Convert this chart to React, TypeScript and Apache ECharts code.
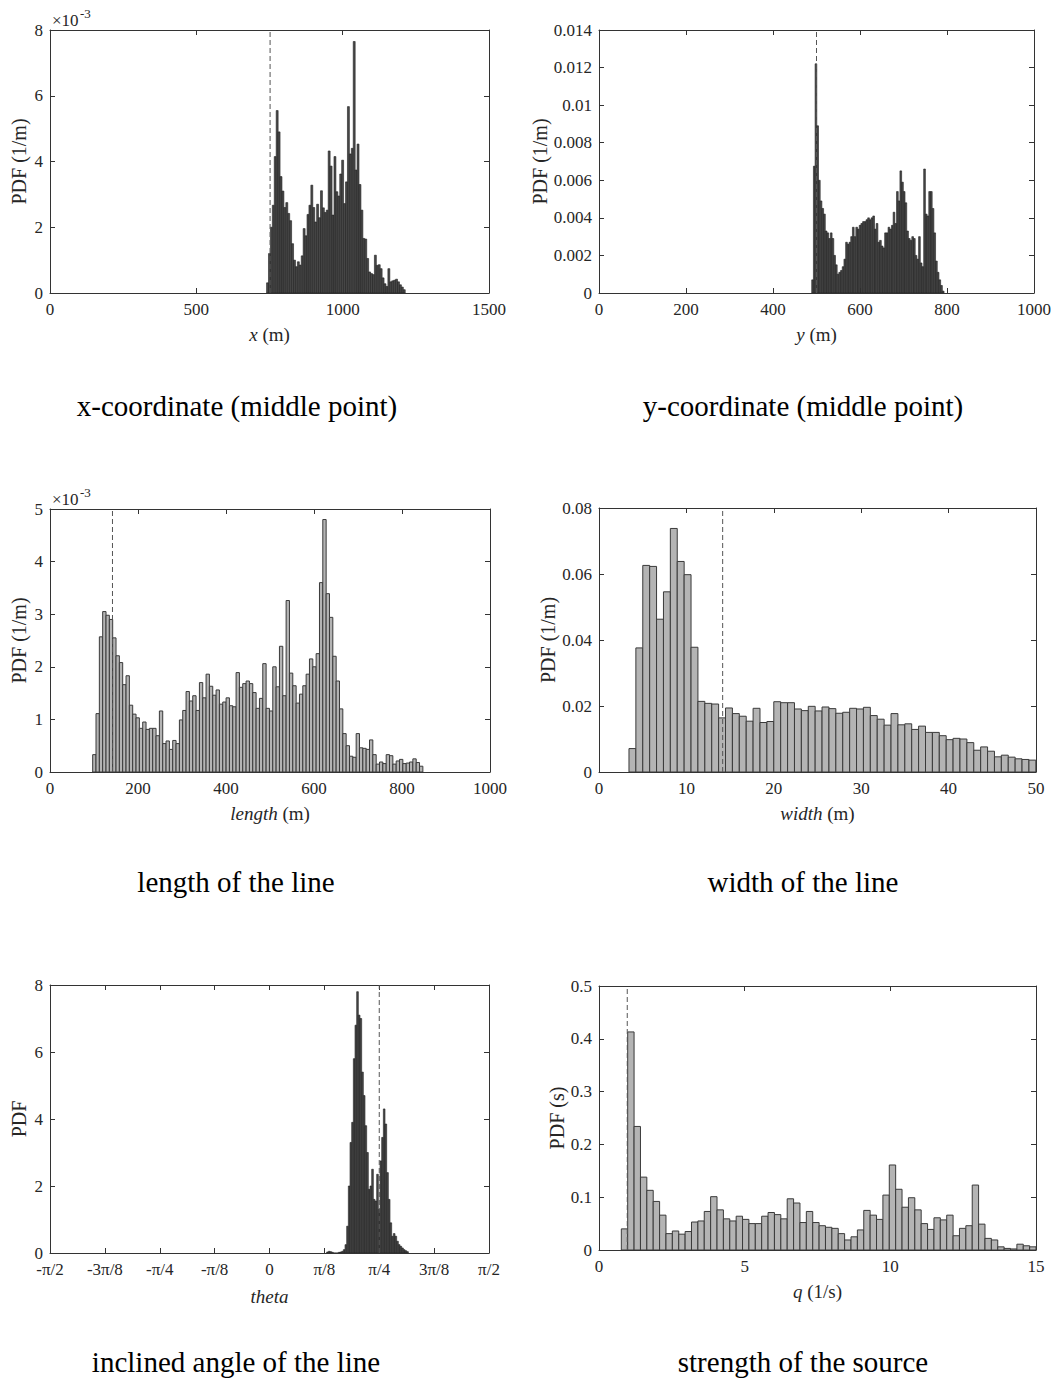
import React, { useEffect, useRef } from 'react';
import * as echarts from 'echarts';

const FONT = '"Liberation Serif", "Times New Roman", serif';

// ---- Panel 1: x-coordinate (middle point), PDF in 1e-3 (1/m)
const xMidStart = 740;
const xMidWidth = 6.58;
const xMidPdf = [0.31, 1.2, 2.0, 2.67, 4.15, 5.55, 4.9, 3.54, 3.1, 2.6, 2.75, 2.42, 2.2, 1.5, 1.0, 0.8, 0.95, 0.85, 1.13, 1.96, 1.74, 2.39, 2.67, 3.28, 2.6, 2.16, 2.7, 2.29, 3.11, 2.59, 2.45, 2.52, 4.32, 3.86, 2.37, 4.15, 3.08, 2.95, 3.62, 4.04, 2.72, 3.38, 5.67, 4.23, 4.4, 7.65, 3.74, 4.53, 3.3, 2.52, 1.66, 1.64, 1.05, 0.64, 0.59, 0.56, 1.15, 0.84, 0.86, 0.74, 0.46, 0.28, 0.2, 0.74, 0.34, 0.37, 0.39, 0.42, 0.34, 0.25, 0.18, 0.1];
const xMidRef = 752;

// ---- Panel 2: y-coordinate (middle point)
const yMidStart = 489;
const yMidWidth = 3.9;
const yMidPdf = [0.0007, 0.00675, 0.0122, 0.0089, 0.006, 0.0049, 0.0045, 0.0042, 0.0033, 0.0032, 0.0029, 0.0032, 0.0029, 0.002, 0.0015, 0.001, 0.0011, 0.0012, 0.0014, 0.0018, 0.0027, 0.0026, 0.0027, 0.003, 0.0035, 0.003, 0.0035, 0.0034, 0.0036, 0.0037, 0.0038, 0.0038, 0.0039, 0.004, 0.0039, 0.004, 0.0041, 0.0034, 0.0037, 0.0027, 0.0028, 0.0025, 0.0024, 0.0032, 0.0032, 0.0035, 0.0034, 0.0036, 0.0043, 0.0037, 0.0054, 0.0049, 0.0065, 0.0059, 0.0054, 0.0048, 0.0033, 0.0029, 0.0028, 0.003, 0.0029, 0.002, 0.0018, 0.003, 0.0016, 0.0014, 0.0066, 0.0042, 0.0041, 0.0054, 0.0054, 0.0045, 0.0032, 0.0017, 0.0011, 0.0007, 0.0004, 0.0001];
const yMidRef = 500;

// ---- Panel 3: length of the line, PDF in 1e-3 (1/m)
const lengthStart = 97;
const lengthWidth = 7.58;
const lengthPdf = [0.33, 1.11, 2.57, 3.05, 2.98, 2.9, 2.55, 2.21, 2.08, 1.66, 1.83, 1.27, 1.1, 1.03, 0.83, 0.95, 0.81, 0.83, 0.83, 0.69, 1.16, 0.54, 0.59, 0.43, 0.6, 0.54, 0.99, 1.17, 1.53, 1.35, 1.45, 1.17, 1.7, 1.41, 1.86, 1.63, 1.46, 1.56, 1.29, 1.33, 1.41, 1.26, 1.24, 1.89, 1.61, 1.68, 1.73, 1.68, 1.51, 1.21, 1.4, 2.06, 1.21, 1.16, 2.0, 1.62, 2.39, 1.45, 3.26, 1.88, 1.64, 1.31, 1.48, 1.64, 1.86, 2.15, 2.0, 2.25, 3.6, 4.8, 3.39, 2.94, 2.2, 1.73, 1.2, 0.73, 0.5, 0.3, 0.28, 0.73, 0.46, 0.45, 0.43, 0.61, 0.33, 0.15, 0.19, 0.16, 0.33, 0.31, 0.15, 0.21, 0.24, 0.16, 0.17, 0.19, 0.25, 0.18, 0.11];
const lengthRef = 142;

// ---- Panel 4: width of the line
const widthStart = 3.43;
const widthWidth = 0.789;
const widthPdf = [0.0071, 0.0376, 0.0626, 0.0623, 0.0463, 0.0546, 0.0738, 0.0638, 0.0598, 0.0378, 0.0214, 0.0208, 0.0206, 0.0164, 0.0194, 0.0177, 0.0169, 0.0154, 0.0193, 0.015, 0.0153, 0.0213, 0.021, 0.021, 0.0191, 0.0186, 0.0199, 0.0185, 0.0197, 0.0192, 0.0178, 0.0181, 0.0193, 0.0191, 0.0196, 0.0171, 0.016, 0.0142, 0.0177, 0.0143, 0.0146, 0.0129, 0.0139, 0.012, 0.012, 0.011, 0.0098, 0.0102, 0.01, 0.0089, 0.0066, 0.0076, 0.0063, 0.0046, 0.0051, 0.0045, 0.004, 0.0038, 0.0036];
const widthRef = 14.15;

// ---- Panel 5: inclined angle theta (rad)
const thetaStart = 0.4091;
const thetaWidth = 0.01193;
const thetaPdf = [0.03, 0.05, 0.04, 0.02, 0, 0, 0, 0.02, 0.03, 0.05, 0.1, 0.25, 0.8, 2.0, 3.3, 3.9, 5.8, 6.8, 7.8, 7.1, 7.0, 5.4, 4.7, 3.8, 3.0, 1.9, 2.0, 2.5, 1.6, 1.55, 2.35, 1.3, 2.75, 3.45, 4.3, 3.85, 2.4, 1.6, 0.9, 0.5, 0.58, 0.5, 0.35, 0.25, 0.2, 0.15, 0.1, 0.07, 0.04];
const thetaRef = Math.PI / 4;
const thetaTickLabels = ['-\u03c0/2', '-3\u03c0/8', '-\u03c0/4', '-\u03c0/8', '0', '\u03c0/8', '\u03c0/4', '3\u03c0/8', '\u03c0/2'];

// ---- Panel 6: strength of the source q (1/s)
const qStart = 0.766;
const qWidth = 0.219;
const qPdf = [0.04, 0.413, 0.234, 0.138, 0.113, 0.092, 0.066, 0.031, 0.036, 0.03, 0.035, 0.053, 0.055, 0.073, 0.101, 0.076, 0.059, 0.055, 0.064, 0.058, 0.05, 0.05, 0.064, 0.071, 0.067, 0.059, 0.097, 0.089, 0.052, 0.073, 0.052, 0.046, 0.043, 0.041, 0.031, 0.019, 0.025, 0.038, 0.075, 0.066, 0.058, 0.104, 0.161, 0.115, 0.081, 0.099, 0.076, 0.05, 0.039, 0.061, 0.057, 0.066, 0.027, 0.041, 0.046, 0.123, 0.049, 0.022, 0.019, 0.006, 0.003, 0.002, 0.011, 0.008, 0.006];
const qRef = 0.97;

const captions = [
  'x-coordinate (middle point)',
  'y-coordinate (middle point)',
  'length of the line',
  'width of the line',
  'inclined angle of the line',
  'strength of the source',
];

function bins(start: number, width: number, values: number[], scale = 1) {
  return values.map((v, i) => [(start + i * width) * scale, (start + (i + 1) * width) * scale, v]);
}

const AX = '#333333';
const TXT = '#262626';

interface PanelCfg {
  grid: { left: number; top: number; width: number; height: number };
  xMin: number; xMax: number; xInt: number;
  yMin: number; yMax: number; yInt: number;
  xName: string; yName: string;
  xGap: number; yGap: number;
  xFmt?: (v: number) => string;
  data: number[][];
  ref: number;
  dark: boolean;
}

const PI8 = Math.PI / 8;
const plain = (v: number) => String(Number(v.toFixed(6)));

const panels: PanelCfg[] = [
  {
    grid: { left: 50, top: 30, width: 439, height: 263 },
    xMin: 0, xMax: 1500, xInt: 500, yMin: 0, yMax: 8, yInt: 2,
    xName: '{i|x} (m)', yName: 'PDF (1/m)', xGap: 32, yGap: 21,
    data: bins(xMidStart, xMidWidth, xMidPdf), ref: xMidRef, dark: true,
  },
  {
    grid: { left: 599, top: 30, width: 435, height: 263 },
    xMin: 0, xMax: 1000, xInt: 200, yMin: 0, yMax: 0.014, yInt: 0.002,
    xName: '{i|y} (m)', yName: 'PDF (1/m)', xGap: 32, yGap: 41,
    data: bins(yMidStart, yMidWidth, yMidPdf), ref: yMidRef, dark: true,
  },
  {
    grid: { left: 50, top: 509, width: 440, height: 263 },
    xMin: 0, xMax: 1000, xInt: 200, yMin: 0, yMax: 5, yInt: 1,
    xName: '{i|length} (m)', yName: 'PDF (1/m)', xGap: 32, yGap: 21,
    data: bins(lengthStart, lengthWidth, lengthPdf), ref: lengthRef, dark: false,
  },
  {
    grid: { left: 599, top: 508, width: 437, height: 264 },
    xMin: 0, xMax: 50, xInt: 10, yMin: 0, yMax: 0.08, yInt: 0.02,
    xName: '{i|width} (m)', yName: 'PDF (1/m)', xGap: 32, yGap: 40,
    data: bins(widthStart, widthWidth, widthPdf), ref: widthRef, dark: false,
  },
  {
    grid: { left: 50, top: 985, width: 439, height: 268 },
    xMin: -4, xMax: 4, xInt: 1, yMin: 0, yMax: 8, yInt: 2,
    xName: '{i|theta}', yName: 'PDF', xGap: 34, yGap: 21,
    xFmt: (v: number) => thetaTickLabels[Math.round(v) + 4] ?? '',
    data: bins(thetaStart, thetaWidth, thetaPdf, 1 / PI8), ref: thetaRef / PI8, dark: true,
  },
  {
    grid: { left: 599, top: 986, width: 437, height: 264 },
    xMin: 0, xMax: 15, xInt: 5, yMin: 0, yMax: 0.5, yInt: 0.1,
    xName: '{i|q} (1/s)', yName: 'PDF (s)', xGap: 32, yGap: 32,
    data: bins(qStart, qWidth, qPdf), ref: qRef, dark: false,
  },
];

const captionPos = [
  [237, 406], [803, 406], [236, 882], [803, 882], [236, 1362], [803, 1362],
];

function buildOption() {
  const grids: any[] = [];
  const xAxes: any[] = [];
  const yAxes: any[] = [];
  const series: any[] = [];
  const graphic: any[] = [];

  const lineStyle = { color: AX, width: 1 };
  const labelStyle = { fontFamily: FONT, fontSize: 17, color: TXT };

  panels.forEach((p, g) => {
    grids.push({ ...p.grid, containLabel: false });
    const xBase = {
      gridIndex: g, type: 'value', min: p.xMin, max: p.xMax, interval: p.xInt,
      axisLine: { show: true, onZero: false, lineStyle },
      axisTick: { show: true, inside: true, length: 5, lineStyle },
      splitLine: { show: false },
    };
    xAxes.push({
      ...xBase, position: 'bottom',
      axisLabel: { ...labelStyle, margin: 8, formatter: p.xFmt ?? plain },
      name: p.xName, nameLocation: 'middle', nameGap: p.xGap,
      nameTextStyle: {
        fontFamily: FONT, fontSize: 19, color: TXT,
        rich: { i: { fontFamily: FONT, fontSize: 19, fontStyle: 'italic', color: TXT } },
      },
    });
    xAxes.push({ ...xBase, position: 'top', axisLabel: { show: false } });
    const yBase = {
      gridIndex: g, type: 'value', min: p.yMin, max: p.yMax, interval: p.yInt,
      axisLine: { show: true, onZero: false, lineStyle },
      axisTick: { show: true, inside: true, length: 5, lineStyle },
      splitLine: { show: false },
    };
    yAxes.push({
      ...yBase, position: 'left',
      axisLabel: { ...labelStyle, margin: 7, formatter: plain },
      name: p.yName, nameLocation: 'middle', nameGap: p.yGap, nameRotate: 90,
      nameTextStyle: { fontFamily: FONT, fontSize: 20, color: TXT },
    });
    yAxes.push({ ...yBase, position: 'right', axisLabel: { show: false } });

    const fill = p.dark ? '#4a4a4a' : '#b4b4b4';
    const stroke = p.dark ? '#1e1e1e' : '#3a3a3a';
    const lw = p.dark ? 0.6 : 1;
    series.push({
      type: 'custom',
      coordinateSystem: 'cartesian2d',
      xAxisIndex: 2 * g,
      yAxisIndex: 2 * g,
      encode: { x: [0, 1], y: 2 },
      data: p.data,
      clip: true,
      renderItem: (_params: any, api: any) => {
        const x0 = api.value(0);
        const x1 = api.value(1);
        const y = api.value(2);
        const a = api.coord([x0, y]);
        const b = api.coord([x1, 0]);
        return {
          type: 'rect',
          shape: { x: a[0], y: a[1], width: b[0] - a[0], height: b[1] - a[1] },
          style: { fill, stroke, lineWidth: lw },
        };
      },
      z: 2,
    });
    series.push({
      type: 'line',
      xAxisIndex: 2 * g,
      yAxisIndex: 2 * g,
      data: [[p.ref, p.yMin], [p.ref, p.yMax]],
      symbol: 'none',
      silent: true,
      lineStyle: { color: '#555555', width: 1, type: [5, 3] },
      z: 5,
    });

    graphic.push({
      type: 'text',
      x: captionPos[g][0],
      y: captionPos[g][1],
      style: {
        text: captions[g], fontFamily: FONT, fontSize: 29, fill: '#000',
        textAlign: 'center', textVerticalAlign: 'middle',
      },
    });
  });

  // x10^-3 exponent labels
  const exps = [[52, 20, 7], [52, 499, 486]];
  exps.forEach(([x, y, y2]) => {
    graphic.push({
      type: 'text', x, y,
      style: { text: '\u00d710', fontFamily: FONT, fontSize: 17, fill: TXT, textVerticalAlign: 'middle' },
    });
    graphic.push({
      type: 'text', x: x + 28, y: y2,
      style: { text: '-3', fontFamily: FONT, fontSize: 13, fill: TXT, textVerticalAlign: 'top' },
    });
  });

  return {
    animation: false,
    backgroundColor: '#ffffff',
    grid: grids,
    xAxis: xAxes,
    yAxis: yAxes,
    series,
    graphic,
  };
}

export default function App() {
  const ref = useRef<HTMLDivElement>(null);
  useEffect(() => {
    document.body.style.margin = '0';
    if (!ref.current) return;
    const chart = echarts.init(ref.current, undefined, { renderer: 'svg' });
    chart.setOption(buildOption() as any);
    return () => chart.dispose();
  }, []);
  return <div ref={ref} style={{ width: 1056, height: 1378, background: '#fff' }} />;
}
